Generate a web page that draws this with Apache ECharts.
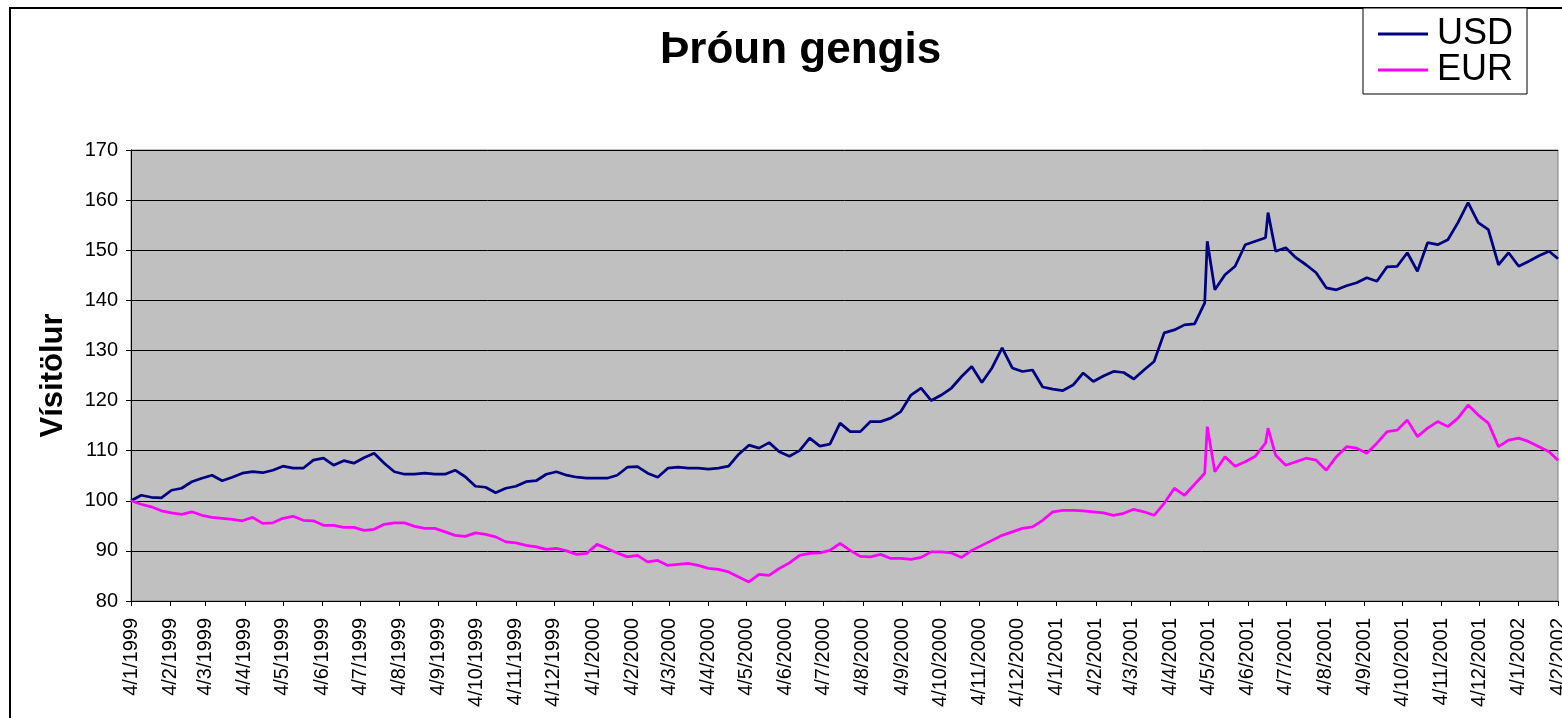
<!DOCTYPE html>
<html>
<head>
<meta charset="utf-8">
<title>Þróun gengis</title>
<script src="https://cdn.jsdelivr.net/npm/echarts@6/dist/echarts.min.js"></script>
<style>
  html, body { margin: 0; padding: 0; background: #fff; }
  #chart { width: 1562px; height: 718px; }
</style>
</head>
<body>
<div id="chart"></div>
<script>
// [A] Dagsetningar (lesnar af myndinni, u.þ.b. 8 daga bil + toppar)
const dates = [
  '1999-01-04','1999-01-12','1999-01-20','1999-01-28','1999-02-05','1999-02-13','1999-02-21',
  '1999-03-01','1999-03-09','1999-03-17','1999-03-25','1999-04-02','1999-04-10','1999-04-18','1999-04-26',
  '1999-05-04','1999-05-12','1999-05-20','1999-05-28','1999-06-05','1999-06-13','1999-06-21','1999-06-29',
  '1999-07-07','1999-07-15','1999-07-23','1999-07-31','1999-08-08','1999-08-16','1999-08-24',
  '1999-09-01','1999-09-09','1999-09-17','1999-09-25','1999-10-03','1999-10-11','1999-10-19','1999-10-27',
  '1999-11-04','1999-11-12','1999-11-20','1999-11-28','1999-12-06','1999-12-14','1999-12-22','1999-12-30',
  '2000-01-07','2000-01-15','2000-01-23','2000-01-31','2000-02-08','2000-02-16','2000-02-24',
  '2000-03-03','2000-03-11','2000-03-19','2000-03-27','2000-04-04','2000-04-12','2000-04-20','2000-04-28',
  '2000-05-06','2000-05-14','2000-05-22','2000-05-30','2000-06-07','2000-06-15','2000-06-23',
  '2000-07-01','2000-07-09','2000-07-17','2000-07-25','2000-08-02','2000-08-10','2000-08-18','2000-08-26',
  '2000-09-03','2000-09-11','2000-09-19','2000-09-27','2000-10-05','2000-10-13','2000-10-21','2000-10-29',
  '2000-11-06','2000-11-14','2000-11-22','2000-11-30','2000-12-08','2000-12-16','2000-12-24',
  '2001-01-01','2001-01-09','2001-01-17','2001-01-25','2001-02-02','2001-02-10','2001-02-18','2001-02-26',
  '2001-03-06','2001-03-14','2001-03-22','2001-03-30','2001-04-07','2001-04-15','2001-04-23',
  '2001-05-01','2001-05-03','2001-05-09','2001-05-17','2001-05-25','2001-06-02','2001-06-10','2001-06-18','2001-06-20','2001-06-26',
  '2001-07-04','2001-07-12','2001-07-20','2001-07-28','2001-08-05','2001-08-13','2001-08-21','2001-08-29',
  '2001-09-06','2001-09-14','2001-09-22','2001-09-30','2001-10-08','2001-10-16','2001-10-24',
  '2001-11-01','2001-11-09','2001-11-17','2001-11-25','2001-12-03','2001-12-11','2001-12-19','2001-12-27',
  '2002-01-04','2002-01-12','2002-01-20','2002-01-28','2002-02-04'
];

// [B] Vísitala USD
const usd = [
  100.0,101.1,100.7,100.6,102.1,102.5,103.8,
  104.5,105.1,104.0,104.7,105.5,105.8,105.6,106.1,
  106.9,106.5,106.5,108.1,108.5,107.1,108.0,107.5,
  108.6,109.5,107.5,105.8,105.3,105.3,105.5,
  105.3,105.3,106.1,104.8,102.9,102.7,101.6,102.5,
  102.9,103.8,104.0,105.3,105.8,105.1,104.7,104.5,
  104.5,104.5,105.1,106.7,106.8,105.5,104.7,
  106.5,106.7,106.5,106.5,106.3,106.5,106.9,109.3,
  111.1,110.5,111.6,109.8,108.9,110.0,112.5,
  110.9,111.3,115.5,113.8,113.8,115.8,115.8,116.5,
  117.8,121.1,122.5,120.0,121.1,122.5,124.8,126.8,
  123.6,126.5,130.5,126.5,125.8,126.1,122.7,
  122.3,122.0,123.1,125.5,123.8,124.9,125.8,125.6,
  124.3,126.1,127.8,133.5,134.1,135.1,135.3,
  139.5,151.8,142.1,145.1,146.8,151.1,151.8,152.5,157.5,149.8,
  150.5,148.5,147.1,145.5,142.5,142.1,142.9,143.5,
  144.5,143.8,146.7,146.8,149.5,145.8,151.5,
  151.1,152.1,155.5,159.5,155.5,154.1,147.1,149.5,
  146.8,147.8,148.9,149.8,148.3
];

// [C] Vísitala EUR
const eur = [
  100.0,99.3,98.8,98.0,97.6,97.3,97.8,
  97.1,96.7,96.5,96.3,96.0,96.7,95.5,95.6,
  96.5,96.9,96.1,96.0,95.1,95.1,94.7,94.7,
  94.1,94.3,95.3,95.6,95.6,94.9,94.5,
  94.5,93.8,93.1,92.9,93.6,93.3,92.8,91.8,
  91.6,91.1,90.8,90.3,90.5,90.0,89.3,89.5,
  91.3,90.5,89.6,88.8,89.1,87.8,88.1,
  87.1,87.3,87.5,87.1,86.5,86.3,85.8,84.8,
  83.8,85.3,85.1,86.5,87.6,89.1,89.5,
  89.6,90.1,91.5,90.1,88.9,88.8,89.3,88.5,
  88.5,88.3,88.7,89.8,89.8,89.6,88.7,90.1,
  91.1,92.1,93.1,93.8,94.5,94.8,96.1,
  97.8,98.1,98.1,98.0,97.8,97.6,97.1,97.5,
  98.3,97.8,97.1,99.5,102.5,101.1,103.3,
  105.5,114.8,105.8,108.8,106.9,107.8,108.9,111.5,114.5,109.1,
  107.1,107.8,108.5,108.1,106.1,108.8,110.8,110.5,
  109.5,111.5,113.8,114.1,116.1,112.8,114.5,
  115.8,114.8,116.5,119.1,117.1,115.5,110.8,112.1,
  112.5,111.8,110.8,109.8,108.1
];

// [D] Merkingar á x-ás (4. hvers mánaðar)
const tickLabels = [
  '4/1/1999','4/2/1999','4/3/1999','4/4/1999','4/5/1999','4/6/1999','4/7/1999','4/8/1999',
  '4/9/1999','4/10/1999','4/11/1999','4/12/1999','4/1/2000','4/2/2000','4/3/2000','4/4/2000',
  '4/5/2000','4/6/2000','4/7/2000','4/8/2000','4/9/2000','4/10/2000','4/11/2000','4/12/2000',
  '4/1/2001','4/2/2001','4/3/2001','4/4/2001','4/5/2001','4/6/2001','4/7/2001','4/8/2001',
  '4/9/2001','4/10/2001','4/11/2001','4/12/2001','4/1/2002','4/2/2002'
];

const FONT = "'Liberation Sans', Arial, sans-serif";
const DAY = 86400000;
const start = Date.UTC(1999, 0, 4);
const end = Date.UTC(2002, 1, 4);

// [E] Allir dagar á bilinu sem flokkar (x-ás er dagatalsás eins og í Excel)
const days = [];
for (let t = start; t <= end; t += DAY) {
  const d = new Date(t);
  days.push(d.getUTCDate() + '/' + (d.getUTCMonth() + 1) + '/' + d.getUTCFullYear());
}
const tickSet = new Set(tickLabels);
const isTick = (i, v) => tickSet.has(v);

const dayIndex = iso => Math.round((Date.parse(iso) - start) / DAY);
const toSeries = vals => dates.map((iso, i) => [dayIndex(iso), vals[i]]);

const chart = echarts.init(document.getElementById('chart'));

const option = {
  animation: false,
  backgroundColor: '#ffffff',
  textStyle: { fontFamily: FONT },
  graphic: [{
    type: 'rect',
    silent: true,
    z: -10,
    shape: { x: 10, y: 8, width: 1600, height: 800 },
    style: { fill: 'none', stroke: '#000', lineWidth: 2 }
  }],
  title: {
    text: 'Þróun gengis',
    left: 655,
    top: 24,
    textStyle: { fontFamily: FONT, fontSize: 44, fontWeight: 'bold', color: '#000' }
  },
  legend: {
    orient: 'vertical',
    left: 1363,
    top: 8,
    padding: [8, 14, 6, 15],
    backgroundColor: '#fff',
    borderColor: '#000',
    borderWidth: 1,
    itemWidth: 50,
    itemHeight: 3,
    itemGap: 0,
    icon: 'rect',
    selectedMode: false,
    textStyle: { fontFamily: FONT, fontSize: 36, lineHeight: 35, color: '#000', padding: [0, 0, 0, 4] },
    data: ['USD', 'EUR']
  },
  grid: {
    left: 131, right: 4, top: 150, bottom: 117,
    outerBoundsMode: 'none',
    containLabel: false,
    show: true,
    backgroundColor: '#C0C0C0',
    borderColor: '#808080',
    borderWidth: 1
  },
  xAxis: {
    type: 'category',
    data: days,
    boundaryGap: false,
    axisLine: { show: true, lineStyle: { color: '#000', width: 1 } },
    axisTick: { show: true, interval: isTick, length: 5, lineStyle: { color: '#000' } },
    axisLabel: {
      interval: isTick,
      rotate: 90,
      margin: 17,
      fontFamily: FONT,
      fontSize: 20,
      color: '#000'
    },
    splitLine: { show: false }
  },
  yAxis: {
    type: 'value',
    min: 80,
    max: 170,
    interval: 10,
    name: 'Vísitölur',
    nameLocation: 'middle',
    nameRotate: 90,
    nameGap: 62,
    nameTextStyle: { fontFamily: FONT, fontSize: 31, fontWeight: 'bold', color: '#000' },
    axisLine: { show: true, lineStyle: { color: '#000', width: 1 } },
    axisTick: { show: true, length: 5, lineStyle: { color: '#000' } },
    axisLabel: { margin: 13, fontFamily: FONT, fontSize: 20, color: '#000' },
    splitLine: { show: true, lineStyle: { color: '#000', width: 1 } }
  },
  series: [
    {
      name: 'USD',
      type: 'line',
      data: toSeries(usd),
      showSymbol: false,
      symbol: 'none',
      color: '#000080',
      lineStyle: { color: '#000080', width: 2.75 }
    },
    {
      name: 'EUR',
      type: 'line',
      data: toSeries(eur),
      showSymbol: false,
      symbol: 'none',
      color: '#FF00FF',
      lineStyle: { color: '#FF00FF', width: 2.75 }
    }
  ]
};

chart.setOption(option);
</script>
</body>
</html>
